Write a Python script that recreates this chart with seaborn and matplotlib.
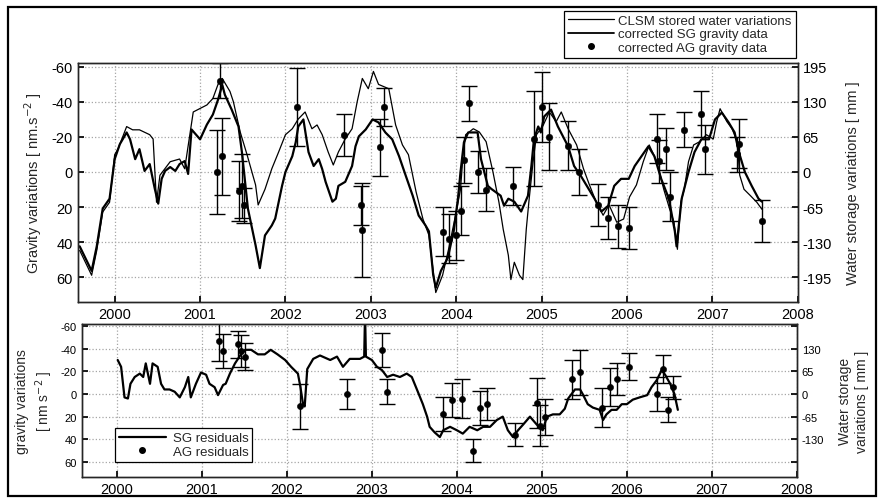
import numpy as np
import pandas as pd
import matplotlib
matplotlib.use('Agg')
import matplotlib.pyplot as plt
import seaborn as sns
from matplotlib.patches import Rectangle
from matplotlib.lines import Line2D

# ---- upper panel: CLSM stored water [mm] (right axis)
clsm_year = [1999.59, 1999.73, 1999.79, 1999.86, 1999.94, 2000.00, 2000.04, 2000.14, 2000.21, 2000.29,
             2000.41, 2000.45, 2000.49, 2000.53, 2000.65, 2000.76, 2000.82, 2000.88, 2000.92, 2001.08,
             2001.15, 2001.21, 2001.26, 2001.35, 2001.39, 2001.47, 2001.55, 2001.65, 2001.68, 2001.76,
             2001.84, 2001.92, 2002.00, 2002.08, 2002.15, 2002.23, 2002.31, 2002.37, 2002.43, 2002.50,
             2002.56, 2002.62, 2002.70, 2002.78, 2002.84, 2002.90, 2002.97, 2003.03, 2003.09, 2003.21,
             2003.29, 2003.37, 2003.44, 2003.53, 2003.61, 2003.68, 2003.76, 2003.84, 2003.91, 2004.00,
             2004.05, 2004.08, 2004.11, 2004.20, 2004.27, 2004.35, 2004.43, 2004.50, 2004.55, 2004.61,
             2004.64, 2004.68, 2004.74, 2004.78, 2004.82, 2004.85, 2004.90, 2004.94, 2005.02, 2005.09,
             2005.17, 2005.23, 2005.31, 2005.41, 2005.49, 2005.56, 2005.64, 2005.72, 2005.79, 2005.88,
             2005.96, 2006.03, 2006.11, 2006.19, 2006.26, 2006.35, 2006.43, 2006.50, 2006.55, 2006.59,
             2006.63, 2006.67, 2006.72, 2006.78, 2006.85, 2006.93, 2007.01, 2007.05, 2007.09, 2007.17,
             2007.23, 2007.29, 2007.32, 2007.37, 2007.44, 2007.52, 2007.58]
clsm_mm = [-145, -191, -145, -74, -56, 32, 43, 84, 78, 78,
           69, 61, -56, -6, 19, 24, 6, 69, 111, 124,
           136, 162, 173, 149, 130, 74, 32, -24, -61, -32,
           6, 37, 69, 80, 98, 111, 80, 87, 69, 37,
           13, 37, 61, 80, 130, 173, 154, 186, 162, 154,
           87, 50, 32, -37, -87, -117, -223, -191, -143, -74,
           -32, 32, 69, 80, 74, 56, 0, -56, -106, -154,
           -199, -167, -191, -199, -106, -56, 19, 69, 87, 111,
           93, 111, 80, 50, 6, -24, -56, -80, -61, -93,
           -87, -46, -24, 19, 50, 19, -32, -69, -93, -143,
           -56, -32, 19, 50, 56, 69, 61, 93, 117, 93,
           80, 56, -6, -32, -43, -56, -69]

# ---- upper panel: corrected SG gravity [nm/s2] (left axis)
sg_year = [1999.59, 1999.73, 1999.79, 1999.86, 1999.94, 2000.00, 2000.06, 2000.14, 2000.18, 2000.24,
           2000.29, 2000.35, 2000.41, 2000.47, 2000.51, 2000.55, 2000.59, 2000.65, 2000.71, 2000.76,
           2000.82, 2000.86, 2000.90, 2001.00, 2001.08, 2001.15, 2001.21, 2001.26, 2001.29, 2001.37,
           2001.45, 2001.49, 2001.56, 2001.65, 2001.70, 2001.76, 2001.84, 2001.88, 2001.96, 2002.00,
           2002.08, 2002.12, 2002.15, 2002.21, 2002.27, 2002.33, 2002.39, 2002.43, 2002.47, 2002.55,
           2002.59, 2002.62, 2002.70, 2002.78, 2002.82, 2002.86, 2002.94, 2003.02, 2003.09, 2003.17,
           2003.25, 2003.33, 2003.41, 2003.49, 2003.56, 2003.64, 2003.68, 2003.73, 2003.76, 2003.82,
           2003.90, 2003.97, 2004.02, 2004.05, 2004.09, 2004.14, 2004.25, 2004.29, 2004.37, 2004.41,
           2004.52, 2004.56, 2004.61, 2004.68, 2004.76, 2004.84, 2004.88, 2004.91, 2004.96, 2004.99,
           2005.03, 2005.11, 2005.19, 2005.31, 2005.38, 2005.46, 2005.55, 2005.62, 2005.70, 2005.78,
           2005.85, 2005.93, 2006.02, 2006.09, 2006.17, 2006.25, 2006.32, 2006.40, 2006.49, 2006.56,
           2006.58, 2006.64, 2006.72, 2006.79, 2006.87, 2006.96, 2007.03, 2007.11, 2007.19, 2007.26,
           2007.31, 2007.38, 2007.46, 2007.54, 2007.58]
sg_gravity = [42.3, 56.3, 42.3, 20.8, 15.2, -7.3, -15.8, -22.5, -18.6, -7.3,
              -13.0, -0.6, -4.5, 9.6, 18.0, 3.9, -0.6, -2.8, -0.6, -4.5,
              -6.2, 1.1, -24.2, -18.6, -27.0, -32.7, -41.1, -49.6, -44.0, -35.5,
              -25.9, -11.3, 20.8, 41.7, 54.7, 36.1, 30.4, 26.5, 7.9, 0.0,
              -9.0, -16.9, -25.9, -29.9, -11.3, -3.4, -7.3, -1.7, 5.6, 16.9,
              15.2, 7.9, 5.6, -3.4, -14.6, -20.3, -24.2, -29.9, -28.2, -22.5,
              -18.6, -9.0, 2.3, 13.5, 24.8, 30.4, 33.8, 58.6, 65.9, 56.3,
              49.0, 33.8, 15.2, 0.0, -16.9, -22.5, -22.5, -7.3, 7.9, 9.6,
              13.5, 19.2, 15.2, 16.9, 22.5, 13.5, -3.4, -18.6, -25.9, -22.5,
              -31.6, -35.5, -25.9, -14.6, -3.4, 2.3, 9.6, 15.2, 22.5, 19.2,
              7.9, 3.9, 3.9, -3.4, -9.0, -14.6, -9.0, 3.9, 15.2, 33.8,
              42.3, 15.2, 0.0, -11.3, -18.6, -18.6, -29.9, -33.8, -28.2, -22.5,
              -11.3, 0.0, 7.9, 15.2, 16.9]

# ---- upper panel: corrected AG gravity [nm/s2]
ag_year = [2001.20, 2001.26, 2001.23, 2001.45, 2001.49, 2001.52, 2002.14, 2002.68, 2002.89, 2002.90,
           2003.15, 2003.11, 2003.84, 2003.91, 2004.00, 2004.05, 2004.15, 2004.09, 2004.25, 2004.35,
           2004.67, 2004.91, 2005.01, 2005.09, 2005.31, 2005.44, 2005.66, 2005.78, 2005.90, 2006.02,
           2006.35, 2006.38, 2006.46, 2006.50, 2006.67, 2006.87, 2006.91, 2007.31, 2007.29, 2007.58]
ag_gravity = [0, -9, -52, 11, 8, 19, -37, -21, 19, 33,
              -37, -14, 34, 38, 36, 22, -39, -7, 0, 10,
              8, -19, -37, -20, -15, 0, 19, 26, 31, 32,
              -19, -6, -13, 14, -24, -33, -13, -16, -10, 28]
ag_err = [24, 22, 10, 17, 18, 10, 22, 12, 11, 27,
          11, 16, 14, 14, 14, 14, 10, 13, 12, 12,
          11, 27, 20, 19, 14, 13, 12, 12, 12, 12,
          14, 12, 12, 14, 10, 13, 14, 14, 10, 12]

# ---- lower panel: residuals [nm/s2]
res_year = [2000.01, 2000.05, 2000.09, 2000.13, 2000.16, 2000.21, 2000.27, 2000.31, 2000.34, 2000.39,
            2000.42, 2000.48, 2000.52, 2000.56, 2000.62, 2000.68, 2000.74, 2000.80, 2000.84, 2000.87,
            2000.93, 2000.99, 2001.05, 2001.09, 2001.15, 2001.19, 2001.25, 2001.28, 2001.33, 2001.39,
            2001.46, 2001.51, 2001.58, 2001.66, 2001.74, 2001.81, 2001.89, 2001.98, 2002.05, 2002.13,
            2002.16, 2002.19, 2002.21, 2002.24, 2002.31, 2002.39, 2002.51, 2002.59, 2002.66, 2002.74,
            2002.86, 2002.91, 2002.92, 2002.93, 2003.00, 2003.06, 2003.12, 2003.18, 2003.25, 2003.33,
            2003.41, 2003.47, 2003.53, 2003.60, 2003.65, 2003.68, 2003.74, 2003.80, 2003.84, 2003.92,
            2004.00, 2004.07, 2004.15, 2004.24, 2004.31, 2004.39, 2004.47, 2004.54, 2004.60, 2004.66,
            2004.72, 2004.78, 2004.86, 2004.94, 2005.01, 2005.06, 2005.13, 2005.21, 2005.27, 2005.31,
            2005.35, 2005.39, 2005.45, 2005.48, 2005.54, 2005.60, 2005.68, 2005.72, 2005.76, 2005.82,
            2005.88, 2005.94, 2006.00, 2006.07, 2006.15, 2006.24, 2006.29, 2006.35, 2006.41, 2006.45,
            2006.51, 2006.56, 2006.60]
res_gravity = [-30, -24, 3, 4, -9, -15, -18, -15, -27, -9,
               -27, -24, -9, -4, -4, -2, 3, -6, -15, 3,
               -9, -19, -17, -9, -6, 1, -8, -9, -18, -27,
               -35, -39, -39, -35, -35, -39, -35, -30, -24, -18,
               -6, 9, 11, -22, -31, -34, -30, -33, -24, -31,
               -31, -33, -72, -33, -30, -24, -21, -15, -17, -15,
               -18, -15, -4, 9, 20, 29, 34, 38, 32, 29,
               32, 35, 29, 32, 29, 29, 23, 20, 32, 38,
               32, 27, 20, 27, 32, 20, 18, 18, 13, 4,
               0, -4, -4, 0, 9, 12, 14, 23, 18, 14,
               14, 9, 9, 5, 3, 1, -6, -12, -21, -17,
               -9, 0, 14]

agres_year = [2001.20, 2001.25, 2001.42, 2001.46, 2001.51, 2002.16, 2002.71, 2003.12, 2003.18, 2003.84,
              2003.94, 2004.06, 2004.19, 2004.27, 2004.36, 2004.68, 2004.94, 2004.98, 2005.04, 2005.35,
              2005.45, 2005.71, 2005.80, 2005.89, 2006.02, 2006.36, 2006.42, 2006.48, 2006.54]
agres_gravity = [-47, -38, -44, -38, -33, 11, 0, -39, -2, 18,
                 5, 4, 50, 12, 9, 36, 8, 28, 20, -13,
                 -19, 12, -6, -13, -24, 0, -22, 14, -6]
agres_err = [18, 15, 12, 14, 12, 20, 13, 15, 11, 15,
             15, 17, 10, 15, 14, 10, 22, 18, 16, 17,
             20, 17, 17, 14, 12, 15, 12, 11, 10]

years = list(range(2000, 2009))
grav_ticks = [-60, -40, -20, 0, 20, 40, 60]
mm_ticks = [195, 130, 65, 0, -65, -130, -195]

sns.set_theme(style='ticks')
plt.rcParams['font.family'] = ['Liberation Sans', 'DejaVu Sans']
plt.rcParams['axes.unicode_minus'] = False
plt.rcParams['axes.linewidth'] = 1.0

fig = plt.figure(figsize=(8.8, 5.02), dpi=100)
fig.patch.set_facecolor('white')

clsm_df = pd.DataFrame({'year': clsm_year, 'mm': clsm_mm})
sg_df = pd.DataFrame({'year': sg_year, 'g': sg_gravity})
ag_df = pd.DataFrame({'year': ag_year, 'g': ag_gravity, 'err': ag_err})
res_df = pd.DataFrame({'year': res_year, 'g': res_gravity})
agres_df = pd.DataFrame({'year': agres_year, 'g': agres_gravity, 'err': agres_err})

ratio = 3.25

# ---------- upper panel
ax1 = fig.add_axes([0.0886, 0.3964, 0.818, 0.476])
ax1.grid(True, color='0.65', linestyle=':', linewidth=0.9)
sns.lineplot(data=sg_df, x='year', y='g', ax=ax1, color='black', lw=1.6,
             estimator=None, sort=False, legend=False)
ax1.errorbar(ag_df['year'], ag_df['g'], yerr=ag_df['err'], fmt='none',
             ecolor='black', elinewidth=1.0, capsize=5.5, capthick=1.0)
sns.scatterplot(data=ag_df, x='year', y='g', ax=ax1, color='black', s=22,
                edgecolor='black', legend=False, zorder=4)
ax1.set_xlim(1999.57, 2008.0)
ax1.set_ylim(74, -62)
ax1.set_xticks(years)
ax1.set_yticks(grav_ticks)
ax1.set_xlabel('')
ax1.set_ylabel('Gravity variations [ nm.s$^{-2}$ ]', fontsize=10.5, labelpad=6)
ax1.tick_params(direction='in', labelsize=10.5, length=4, colors='black')

ax1r = ax1.twinx()
sns.lineplot(data=clsm_df, x='year', y='mm', ax=ax1r, color='black', lw=0.9,
             estimator=None, sort=False, legend=False)
ax1r.set_ylim(-ratio * 74, ratio * 62)
ax1r.set_yticks(mm_ticks)
ax1r.set_ylabel('Water storage variations [ mm ]', fontsize=10.5, labelpad=10)
ax1r.tick_params(direction='in', labelsize=10.5, length=4, colors='black')
ax1r.set_xlim(1999.57, 2008.0)

handles = [Line2D([], [], color='black', lw=0.9),
           Line2D([], [], color='black', lw=1.3),
           Line2D([], [], color='black', marker='o', ls='none', markersize=4)]
labels = ['CLSM stored water variations', 'corrected SG gravity data',
          'corrected AG gravity data']
leg = fig.legend(handles, labels, loc='upper right', bbox_to_anchor=(0.904, 0.977),
                 fontsize=9.5, frameon=True, fancybox=False, edgecolor='black',
                 framealpha=1, handlelength=3.5, borderpad=0.3, labelspacing=0.1,
                 handletextpad=0.3, borderaxespad=0)
leg.get_frame().set_linewidth(0.9)

# ---------- lower panel
ax2 = fig.add_axes([0.093, 0.0478, 0.8125, 0.3048])
ax2.grid(True, color='0.65', linestyle=':', linewidth=0.9)
sns.lineplot(data=res_df, x='year', y='g', ax=ax2, color='black', lw=1.6,
             estimator=None, sort=False, legend=False)
ax2.errorbar(agres_df['year'], agres_df['g'], yerr=agres_df['err'], fmt='none',
             ecolor='black', elinewidth=1.0, capsize=5.5, capthick=1.0)
sns.scatterplot(data=agres_df, x='year', y='g', ax=ax2, color='black', s=20,
                edgecolor='black', legend=False, zorder=4)
ax2.set_xlim(1999.588, 2008.0)
ax2.set_ylim(73.3, -61.8)
ax2.set_xticks(years)
ax2.set_yticks(grav_ticks)
ax2.set_xlabel('')
ax2.set_ylabel('gravity variations\n[ nm s$^{-2}$ ]', fontsize=10, labelpad=4,
               linespacing=1.3)
ax2.tick_params(axis='y', direction='in', labelsize=8, length=4, colors='black')
ax2.tick_params(axis='x', direction='in', labelsize=10.5, length=4, colors='black')

ax2r = ax2.twinx()
ax2r.set_ylim(-ratio * 73.3, ratio * 61.8)
ax2r.set_yticks(mm_ticks)
ax2r.set_yticklabels(['', '130', '65', '0', '-65', '-130', ''])
ax2r.set_ylabel('Water storage\nvariations [ mm ]', fontsize=10, labelpad=10,
                linespacing=1.3)
ax2r.tick_params(direction='in', labelsize=8, length=4, colors='black')

handles2 = [Line2D([], [], color='black', lw=1.6),
            Line2D([], [], color='black', marker='o', ls='none', markersize=4)]
leg2 = ax2.legend(handles2, ['SG residuals', 'AG residuals'], loc='upper left',
                  bbox_to_anchor=(0.046, 0.32), fontsize=9.5, frameon=True,
                  fancybox=False, edgecolor='black', framealpha=1,
                  handlelength=3.6, borderpad=0.3, labelspacing=0.1,
                  handletextpad=0.5, borderaxespad=0)
leg2.get_frame().set_linewidth(0.9)

# outer frame of the scanned figure
fig.add_artist(Rectangle((0.009, 0.01), 0.986, 0.975, transform=fig.transFigure,
                         fill=False, edgecolor='black', lw=1.6))

fig.savefig('out.png', dpi=100)
